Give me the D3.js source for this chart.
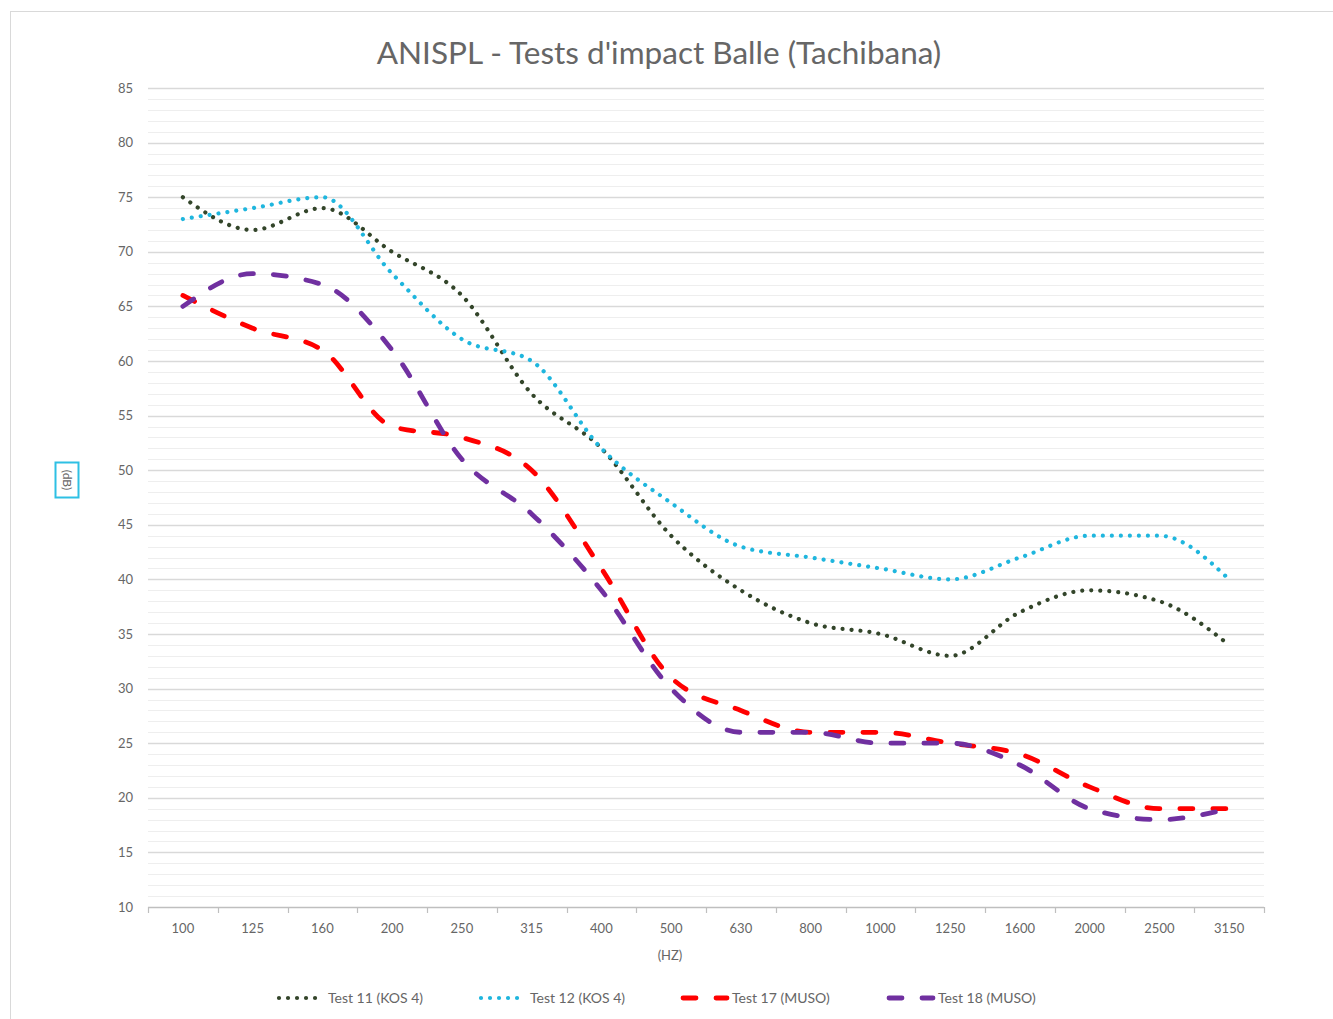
<!DOCTYPE html>
<html>
<head>
<meta charset="utf-8">
<script src="https://cdn.jsdelivr.net/npm/d3@7"></script>
<style>
  html, body { margin: 0; padding: 0; background: #fff; }
  svg { display: block; }
  text { font-family: Lato, "Open Sans", sans-serif; }
</style>
</head>
<body>
<svg id="chart" width="1333" height="1019"></svg>
<script>
const categories = ["100","125","160","200","250","315","400","500","630","800","1000","1250","1600","2000","2500","3150"];
const test11 = [75,72,74,70,66,57,52,44,39,36,35,33,37,39,38,34];
const test12 = [73,74,75,68,62,60,52,47,43,42,41,40,42,44,44,40];
const test17 = [66,63,61,54,53,50,41,31,28,26,26,25,24,21,19,19];
const test18 = [65,68,67,61,51,46,39,30,26,26,25,25,23,19,18,19];
const yTicks = [10,15,20,25,30,35,40,45,50,55,60,65,70,75,80,85];
const seriesNames = ["Test 11 (KOS 4)","Test 12 (KOS 4)","Test 17 (MUSO)","Test 18 (MUSO)"];

const series = [
  {name: seriesNames[0], values: test11, color: "#33452a", width: 4.2, dash: "0.01 9", cap: "round"},
  {name: seriesNames[1], values: test12, color: "#1fb6de", width: 4.2, dash: "0.01 9", cap: "round"},
  {name: seriesNames[2], values: test17, color: "#ff0000", width: 4.8, dash: "13 20", cap: "round"},
  {name: seriesNames[3], values: test18, color: "#7030a0", width: 4.8, dash: "13 20", cap: "round"}
];

const svg = d3.select("#chart");
const L = 148, R = 1264, T = 88, B = 907;

// chart border
svg.append("rect").attr("x", 10.5).attr("y", 11.5).attr("width", 1340).attr("height", 1030)
  .attr("fill", "#fff").attr("stroke", "#d9d9d9").attr("stroke-width", 1);

const x = d3.scaleBand().domain(categories).range([L, R]).padding(0);
const y = d3.scaleLinear().domain([10, 85]).range([B, T]);

// minor gridlines
const minor = d3.range(10, 86, 1).filter(v => v % 5 !== 0);
svg.append("g").selectAll("line").data(minor).join("line")
  .attr("x1", L).attr("x2", R)
  .attr("y1", d => Math.round(y(d)) + 0.5).attr("y2", d => Math.round(y(d)) + 0.5)
  .attr("stroke", "#eeeeee").attr("stroke-width", 1);

// major gridlines
svg.append("g").selectAll("line").data(yTicks.filter(v => v !== 10)).join("line")
  .attr("x1", L).attr("x2", R)
  .attr("y1", d => Math.round(y(d)) + 0.5).attr("y2", d => Math.round(y(d)) + 0.5)
  .attr("stroke", "#d9d9d9").attr("stroke-width", 1.3);

// y axis labels
const yAxis = d3.axisLeft(y).tickValues(yTicks).tickSize(0).tickPadding(15);
const gy = svg.append("g").attr("transform", `translate(${L},0)`).call(yAxis);
gy.select(".domain").remove();
gy.selectAll("text").attr("fill", "#666").style("font-size", "13px").style("font-family", "Lato, sans-serif");

// x axis
const xAxis = d3.axisBottom(x).tickSize(0).tickPadding(17);
const gx = svg.append("g").attr("transform", `translate(0,${B})`).call(xAxis);
gx.select(".domain").attr("stroke", "#bfbfbf").attr("stroke-width", 1.3).attr("d", `M${L},0.5H${R}`);
gx.selectAll("text").attr("fill", "#666").style("font-size", "13px").style("font-family", "Lato, sans-serif");
// tick marks at band boundaries
const bounds = categories.map(c => x(c)).concat([R]);
svg.append("g").selectAll("line").data(bounds).join("line")
  .attr("x1", d => Math.round(d) + 0.5).attr("x2", d => Math.round(d) + 0.5)
  .attr("y1", B).attr("y2", B + 6)
  .attr("stroke", "#bfbfbf").attr("stroke-width", 1.2);

// axis titles
svg.append("text").attr("x", 670).attr("y", 960).attr("text-anchor", "middle")
  .attr("fill", "#666").style("font-size", "13px").text("(HZ)");

const ylab = svg.append("g").attr("transform", "translate(67,480)");
ylab.append("rect").attr("x", -11.5).attr("y", -17.5).attr("width", 23).attr("height", 35)
  .attr("fill", "none").attr("stroke", "#2ec0e4").attr("stroke-width", 2);
ylab.append("text").attr("transform", "rotate(90)").attr("text-anchor", "middle").attr("dy", "0.35em")
  .attr("fill", "#666").style("font-size", "12px").text("(dB)");

// title
svg.append("text").attr("x", 659).attr("y", 64).attr("text-anchor", "middle")
  .attr("fill", "#666").style("font-size", "31.5px").text("ANISPL - Tests d'impact Balle (Tachibana)");

// lines
const line = d3.line()
  .x((d, i) => x(categories[i]) + x.bandwidth() / 2)
  .y(d => y(d))
  .curve(d3.curveMonotoneX);

svg.append("g").selectAll("path").data(series).join("path")
  .attr("d", d => line(d.values))
  .attr("fill", "none")
  .attr("stroke", d => d.color)
  .attr("stroke-width", d => d.width)
  .attr("stroke-dasharray", d => d.dash)
  .attr("stroke-linecap", d => d.cap)
  .attr("stroke-linejoin", "round");

// legend
const legendX = [277, 479, 681, 887];
const lg = svg.append("g");
series.forEach((s, i) => {
  const g = lg.append("g").attr("transform", `translate(${legendX[i]},998)`);
  g.append("line").attr("x1", 2).attr("x2", 46).attr("y1", 0).attr("y2", 0)
    .attr("stroke", s.color).attr("stroke-width", s.width)
    .attr("stroke-dasharray", s.dash).attr("stroke-linecap", s.cap);
  g.append("text").attr("x", 51).attr("y", 0).attr("dy", "0.35em")
    .attr("fill", "#666").style("font-size", "14px").text(s.name);
});
</script>
</body>
</html>
